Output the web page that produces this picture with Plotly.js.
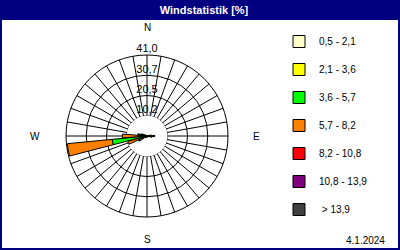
<!DOCTYPE html>
<html><head><meta charset="utf-8">
<script src="https://cdn.plot.ly/plotly-3.0.1.min.js"></script>
<style>html,body{margin:0;padding:0;background:#fff}#chart{width:400px;height:250px}</style>
</head><body><div id="chart"></div>
<script>
const directions = [0,10,20,30,40,50,60,70,80,90,100,110,120,130,140,150,160,170,180,190,200,210,220,230,240,250,260,270,280,290,300,310,320,330,340,350];
const classNames = ['0,5 - 2,1','2,1 - 3,6','3,6 - 5,7','5,7 - 8,2','8,2 - 10,8','10,8 - 13,9',' > 13,9'];
const classColors = ['#FFFFCC','#FFFF00','#00FF00','#FF8000','#FF0000','#800080','#404040'];
const speed1 = [0,0,0,0,0,0,0,0.3,0.8,1.2,0.8,0.3,0,0,0,0,0,0.3,0.5,0.3,0,0,0,0.5,1.2,1.2,1.4,1.5,1.2,0.8,0.4,0,0,0,0,0];
const speed2 = [0,0,0,0,0,0,0,0,1.0,1.8,1.2,0,0,0,0,0,0,0,0.4,0,0,0,0,0.8,3.0,1.8,1.8,1.5,2.5,1.5,0.6,0,0,0,0,0];
const speed3 = [0,0,0,0,0,0,0,0,0.4,1.0,0.6,0,0,0,0,0,0,0,0,0,0,0,0,0,0.5,1.5,14.5,1.5,1.0,0.6,0,0,0,0,0,0];
const speed4 = [0,0,0,0,0,0,0,0,0,0,0,0,0,0,0,0,0,0,0,0,0,0,0,0,0,5.5,22.8,8.0,0,0,0,0,0,0,0,0];
const speed5 = [0,0,0,0,0,0,0,0,0,0,0,0,0,0,0,0,0,0,0,0,0,0,0,0,0,0,0,0,0,0,0,0,0,0,0,0];
const speed6 = [0,0,0,0,0,0,0,0,0,0,0,0,0,0,0,0,0,0,0,0,0,0,0,0,0,0,0,0,0,0,0,0,0,0,0,0];
const speed7 = [0,0,0,0,0,0,0,0,0,0,0,0,0,0,0,0,0,0,0,0,0,0,0,0,0,0,0,0,0,0,0,0,0,0,0,0];
const ringValues = [10.25,20.5,30.75,41];
const ringLabels = ['10,2','20,5','30,7','41,0'];
const compassLabels = ['N','E','S','W'];
const titleText = 'Windstatistik [%]';
const dateLabel = '4.1.2024';
const radialMax = 41;

const series = [speed1,speed2,speed3,speed4,speed5,speed6,speed7];
const FONT = 'Liberation Sans, Arial, sans-serif';
const traces = [];
// hub disk (covers spokes inside the innermost ring)
traces.push({type:'barpolar', subplot:'polar', theta:directions, r:directions.map(()=>ringValues[0]-0.15),
  width:10, marker:{color:'#ffffff', line:{color:'#ffffff', width:1}}, showlegend:false, hoverinfo:'skip'});
series.forEach((vals,i)=>{
  traces.push({type:'barpolar', subplot:'polar2', name:classNames[i], theta:directions, r:vals,
    marker:{color:classColors[i], line:{color:'#000000', width:1}}, legendgroup:'g'+i});
});
traces.push({type:'scatterpolar', subplot:'polar2', mode:'text', r:ringValues, theta:ringValues.map(()=>0),
  text:ringLabels, textposition:'top center', textfont:{family:FONT,size:11,color:'#000'}, showlegend:false, hoverinfo:'skip', cliponaxis:false});

const dom = {x:[66/400,228/400], y:[33/250,195/250]};
const layout = {
  width:400, height:250, margin:{l:0,r:0,t:0,b:0}, paper_bgcolor:'#ffffff',
  showlegend:true,
  title:{text:'<b>'+titleText+'</b>', x:0.51, xanchor:'center', y:1-10/250, yanchor:'middle', yref:'paper',
    font:{family:FONT, size:11, color:'#ffffff'}},
  polar:{domain:dom, bgcolor:'#ffffff', barmode:'overlay',
    angularaxis:{direction:'clockwise', rotation:90, dtick:10, showticklabels:false, ticks:'',
      showgrid:true, gridcolor:'#000000', gridwidth:1, showline:true, linecolor:'#000000', linewidth:1},
    radialaxis:{range:[0,radialMax], tickvals:ringValues.slice(0,3), showticklabels:false, ticks:'',
      showgrid:true, gridcolor:'#000000', gridwidth:1, showline:false}},
  polar2:{domain:dom, bgcolor:'rgba(0,0,0,0)', barmode:'stack',
    angularaxis:{direction:'clockwise', rotation:90, showticklabels:false, ticks:'', showgrid:false, showline:false},
    radialaxis:{range:[0,radialMax], showticklabels:false, ticks:'', showgrid:false, showline:false}},
  legend:{x:279/400, xanchor:'left', y:1-27/250, yanchor:'top', traceorder:'grouped', tracegroupgap:9,
    font:{family:FONT, size:10, color:'#000'}, bgcolor:'rgba(0,0,0,0)'},
  shapes:[
    {type:'rect', xref:'paper', yref:'paper', x0:0, x1:1, y0:1-20/250, y1:1, fillcolor:'#000080', line:{width:0}, layer:'below'},
    {type:'rect', xref:'paper', yref:'paper', x0:0, x1:1, y0:0, y1:1, fillcolor:'rgba(0,0,0,0)', line:{color:'#000080', width:4}}
  ],
  annotations:[
    {text:compassLabels[0], x:147/400, y:1-28/250},
    {text:compassLabels[1], x:256/400, y:1-136/250},
    {text:compassLabels[2], x:147/400, y:1-239/250},
    {text:compassLabels[3], x:35/400, y:1-136/250},
  ].map(a=>Object.assign(a,{xref:'paper',yref:'paper',showarrow:false,xanchor:'center',yanchor:'middle',font:{family:FONT,size:10,color:'#000'}}))
  .concat([{text:dateLabel, xref:'paper', yref:'paper', x:387/400, y:1-240/250, xanchor:'right', yanchor:'middle', showarrow:false, font:{family:FONT,size:10,color:'#000'}}])
};
Plotly.newPlot('chart', traces, layout, {staticPlot:true, displayModeBar:false});
</script></body></html>
